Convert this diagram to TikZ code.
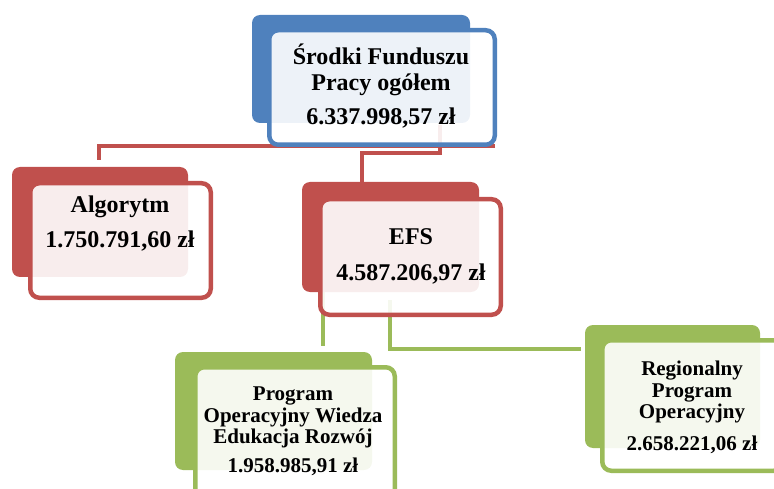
\documentclass[tikz,border=0pt]{standalone}
\usepackage{fontspec}
\setmainfont{Liberation Serif}
\definecolor{cblue}{HTML}{4F81BD}
\definecolor{cred}{HTML}{C0504D}
\definecolor{cgreen}{HTML}{9BBB59}
\begin{document}
\begin{tikzpicture}[x=1pt,y=-1pt,
  back/.style={fill=#1, rounded corners=8pt, inner sep=0pt, draw=none},
  front/.style={draw=#1, line width=4.5pt, fill=white, fill opacity=0.9, rounded corners=9pt, inner sep=0pt},
  link/.style={draw=#1, line width=4pt},
  big/.style={anchor=base, inner sep=0pt, font=\bfseries\fontsize{24}{26}\selectfont},
  small/.style={anchor=base, inner sep=0pt, font=\bfseries\fontsize{21}{22}\selectfont}]
\useasboundingbox (0,0) rectangle (774,489);
\clip (0,0) rectangle (774,489);
% connector end points
\coordinate (r1a) at (495,146);
\coordinate (r1b) at (99,160);
\coordinate (r2a) at (440,125);
\coordinate (r2m) at (362,153);
\coordinate (r2b) at (362,183);
\coordinate (g1a) at (323,290);
\coordinate (g1b) at (323,346);
\coordinate (g2a) at (390,300);
\coordinate (g2b) at (581,349);
% connectors
\draw[link=cred] (r1a) -| (r1b);
\draw[link=cred] (r2a) |- (r2m) -- (r2b);
\draw[link=cgreen] (g1a) -- (g1b);
\draw[link=cgreen] (g2a) |- (g2b);
% back boxes
\node[back=cblue, minimum width=218pt, minimum height=108pt] (topback) at (361,69) {};
\node[back=cred, minimum width=176pt, minimum height=110pt] (algback) at (100,222) {};
\node[back=cred, minimum width=177pt, minimum height=110pt] (efsback) at (390.5,237) {};
\node[back=cgreen, minimum width=197pt, minimum height=118pt] (powback) at (273.5,411) {};
\node[back=cgreen, minimum width=175pt, minimum height=123pt] (rpoback) at (672.5,386.5) {};
% front boxes
\node[front=cblue, minimum width=225.5pt, minimum height=114.5pt] (topbox) at (382,87.5) {};
\node[front=cred, minimum width=180.5pt, minimum height=114.5pt] (algbox) at (120.5,240.5) {};
\node[front=cred, minimum width=180.5pt, minimum height=115.5pt] (efsbox) at (410.5,257) {};
\node[front=cgreen, minimum width=199.5pt, minimum height=135.5pt] (powbox) at (295,435) {};
\node[front=cgreen, minimum width=180.5pt, minimum height=130.5pt] (rpobox) at (692.5,405.5) {};
% texts
\node[big] (t1) at (381,65) {Środki Funduszu};
\node[big] (t2) at (381,91) {Pracy ogółem};
\node[big] (t3) at (381,125) {6.337.998,57 zł};
\node[big] (a1) at (120,213) {Algorytm};
\node[big] (a2) at (120,248) {1.750.791,60 zł};
\node[big] (e1) at (411,245) {EFS};
\node[big] (e2) at (411,280) {4.587.206,97 zł};
\node[small] (p1) at (293,400) {Program};
\node[small] (p2) at (293,422) {Operacyjny Wiedza};
\node[small] (p3) at (293,443) {Edukacja Rozwój};
\node[small] (p4) at (293,472) {1.958.985,91 zł};
\node[small] (q1) at (692,375) {Regionalny};
\node[small] (q2) at (692,397) {Program};
\node[small] (q3) at (692,418) {Operacyjny};
\node[small] (q4) at (692,450) {2.658.221,06 zł};
\end{tikzpicture}
\end{document}
